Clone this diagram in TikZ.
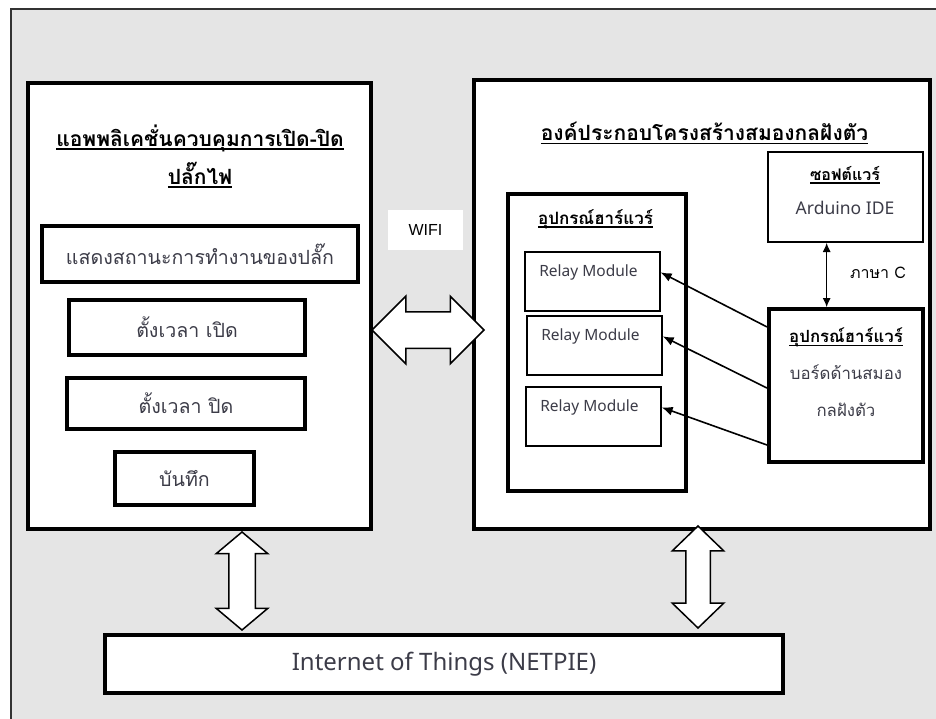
\documentclass[tikz,border=0pt]{standalone}
\usepackage{fontspec}
\usetikzlibrary{arrows.meta,shapes.arrows,calc}
\newfontfamily\thaifont[Script=Thai]{Loma}
\newfontfamily\latinfont{Noto Sans}
\newfontfamily\wififont{Liberation Sans}
\definecolor{bggray}{RGB}{229,229,229}
\definecolor{txtgray}{RGB}{60,60,72}
\newcommand{\tul}[1]{\leavevmode\setbox0\hbox{#1}\rlap{\rule[-3.5pt]{\wd0}{1.3pt}}\box0}
\begin{document}
\begin{tikzpicture}[x=1pt,y=-1pt]
  \tikzset{
    thickbox/.style={draw,line width=4pt,fill=white,inner sep=0pt},
    thinbox/.style={draw,line width=1.3pt,fill=white,inner sep=0pt},
    thtext/.style={font=\thaifont\fontsize{19.6}{37}\selectfont,text=txtgray,align=center},
    thtitle/.style={font=\thaifont\bfseries\fontsize{21}{38}\selectfont,align=center},
    relaytext/.style={font=\latinfont\fontsize{15.5}{18}\selectfont,text=txtgray},
    blockarrow/.style={draw,line width=1.5pt,fill=white,shape=double arrow,inner xsep=0pt},
    sigarrow/.style={-{Latex[length=11pt,width=9pt]},line width=1.6pt},
  }
  \useasboundingbox (0,0) rectangle (936,718);
  % background frame
  \fill[bggray] (11,9) rectangle (946,728);
  \draw[line width=1.5pt,black!80] (946,9) -- (11,9) -- (11,728);
  % application
  \node[thickbox,minimum width=343pt,minimum height=446pt] (appbox) at (199.5,306) {};
  \node[thtitle] (apptitle) at (200,156) {\tul{แอพพลิเคชั่นควบคุมการเปิด-ปิด}\\\tul{ปลั๊กไฟ}};
  \node[thickbox,thtext,minimum width=316pt,minimum height=56pt] (status) at (200,254) {แสดงสถานะการทำงานของปลั๊ก};
  \node[thickbox,thtext,minimum width=236pt,minimum height=55pt] (timeon) at (187,327.5) {ตั้งเวลา เปิด};
  \node[thickbox,thtext,minimum width=238pt,minimum height=51pt] (timeoff) at (186,403.5) {ตั้งเวลา ปิด};
  \node[thickbox,thtext,minimum width=139pt,minimum height=53pt] (save) at (184.5,478.5) {บันทึก};
  % embedded system
  \node[thickbox,minimum width=456pt,minimum height=449pt] (sysbox) at (702,304.5) {};
  \node[thtitle] (systitle) at (704.5,133) {\tul{องค์ประกอบโครงสร้างสมองกลฝังตัว}};
  \node[thickbox,minimum width=178pt,minimum height=297pt] (devbox) at (597,342.5) {};
  \node[thtitle,font=\thaifont\bfseries\fontsize{17}{20}\selectfont] (devtitle) at (595.5,219) {\tul{อุปกรณ์ฮาร์แวร์}};
  \node[thinbox,minimum width=135pt,minimum height=59pt] (relay1) at (592.5,281.5) {};
  \node[thinbox,minimum width=135pt,minimum height=59pt] (relay2) at (594.5,345.5) {};
  \node[thinbox,minimum width=135pt,minimum height=59pt] (relay3) at (593.5,416.5) {};
  \node[relaytext] (r1t) at ([xshift=-4pt,yshift=-21pt]relay1.north) {Relay Module};
  \node[relaytext] (r2t) at ([xshift=-4pt,yshift=-21pt]relay2.north) {Relay Module};
  \node[relaytext] (r3t) at ([xshift=-4pt,yshift=-21pt]relay3.north) {Relay Module};
  \node[draw,line width=2pt,fill=white,minimum width=155pt,minimum height=90pt,inner sep=0pt] (swbox) at (845.5,197) {};
  \node[thtitle,font=\thaifont\bfseries\fontsize{16}{20}\selectfont] (swtitle) at (845,175) {\tul{ซอฟต์แวร์}};
  \node[relaytext,font=\latinfont\fontsize{17.5}{20}\selectfont] (ide) at (845,208) {Arduino IDE};
  \node[thickbox,minimum width=154pt,minimum height=153pt] (board) at (846,385.5) {};
  \node[thtext,font=\thaifont\fontsize{16.8}{37}\selectfont] (boardtext) at (846,372)
    {\textcolor{black}{\tul{\bfseries อุปกรณ์ฮาร์แวร์}}\\บอร์ดด้านสมอง\\กลฝังตัว};
  % internet of things
  \node[thickbox,minimum width=678pt,minimum height=58pt,font=\latinfont\fontsize{24}{28}\selectfont,text=txtgray] (iot) at (444,664) {Internet of Things (NETPIE)};
  \node[fill=white,minimum width=75pt,minimum height=40pt,font=\wififont\fontsize{16}{19}\selectfont] (wifi) at (425.5,230) {WIFI\hspace{8pt}};
  % block arrows
  \node[blockarrow,minimum height=112pt,inner ysep=17.5pt,double arrow head extend=15.5pt] (wifiarrow) at (428,330) {};
  \node[blockarrow,rotate=90,minimum height=98pt,inner ysep=12.5pt,double arrow head extend=12.5pt,double arrow tip angle=100] (apparrow) at (242,581) {};
  \node[blockarrow,rotate=90,minimum height=102pt,inner ysep=11.5pt,double arrow head extend=13.5pt,double arrow tip angle=92] (sysarrow) at (698,577) {};
  % signals
  \coordinate (b1) at ($(board.north west)!0.127!(board.south west)$);
  \coordinate (b2) at ($(board.north west)!0.516!(board.south west)$);
  \coordinate (b3) at ($(board.north west)!0.879!(board.south west)$);
  \draw[sigarrow] (b1) -- (relay1.east |- r1t);
  \draw[sigarrow] (b2) -- (relay2.east |- r2t);
  \draw[sigarrow] (b3) -- (relay3.east |- r3t);
  \coordinate (swp) at ($(swbox.south west)!0.38!(swbox.south east)$);
  \draw[{Latex[length=9pt,width=8pt]}-{Latex[length=9pt,width=8pt]},line width=1pt] (swp) -- (swp |- board.north);
  \node[font=\thaifont\fontsize{16}{19}\selectfont] (lang) at (878,273) {ภาษา C};
\end{tikzpicture}
\end{document}
